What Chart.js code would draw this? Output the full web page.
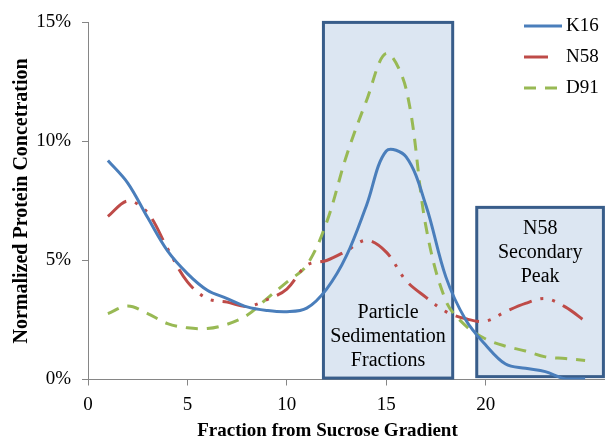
<!DOCTYPE html>
<html>
<head>
<meta charset="utf-8">
<script src="https://cdn.jsdelivr.net/npm/chart.js@4.4.1/dist/chart.umd.min.js"></script>
<style>
  html, body { margin: 0; padding: 0; background: #fff; }
</style>
</head>
<body>
<canvas id="chart" width="605" height="439"></canvas>
<script>
// Normalized protein concentration across sucrose gradient fractions

var fractions = [1, 2, 3, 4, 5, 6, 7, 8, 9, 10, 11, 12, 13, 14, 15, 16, 17, 18, 19, 20, 21, 22, 23, 24, 25];
var k16 = [9.2, 8.25, 6.8, 5.4, 4.45, 3.75, 3.4, 3.05, 2.9, 2.85, 3.0, 3.8, 5.2, 7.3, 9.6, 9.35, 7.3, 4.3, 2.5, 1.45, 0.65, 0.47, 0.33, 0.03, 0.03];
var n58 = [6.85, 7.5, 7.0, 5.5, 4.1, 3.4, 3.25, 3.07, 3.35, 3.8, 4.8, 5.0, 5.4, 5.85, 5.35, 4.15, 3.45, 2.85, 2.55, 2.45, 2.85, 3.2, 3.4, 3.05, 2.45];
var d91 = [2.77, 3.09, 2.77, 2.35, 2.17, 2.14, 2.32, 2.7, 3.4, 4.09, 4.8, 6.6, 9.4, 11.7, 13.7, 12.2, 6.4, 3.3, 2.25, 1.7, 1.4, 1.2, 0.95, 0.88, 0.8];

var xTicks = [0, 5, 10, 15, 20];
var yTicks = [0, 5, 10, 15];

// shaded boxes, in axis units
var boxes = [
  { x0: 11.84, x1: 18.34, y0: 0.06, y1: 15, cx: 15.09, cy: 1.8, text: ['Particle', 'Sedimentation', 'Fractions'] },
  { x0: 19.55, x1: 25.92, y0: 0.12, y1: 7.23, cx: 22.74, cy: 5.31, text: ['N58', 'Secondary', 'Peak'] }
];

var serif = '"Liberation Serif", "Times New Roman", serif';

function pairs(ys) {
  return ys.map(function (y, i) { return { x: fractions[i], y: y }; });
}

var boxPlugin = {
  id: 'boxes',
  beforeDatasetsDraw: function (chart) {
    var ctx = chart.ctx, xs = chart.scales.x, ys = chart.scales.y;
    ctx.save();
    boxes.forEach(function (b) {
      var l = xs.getPixelForValue(b.x0), r = xs.getPixelForValue(b.x1);
      var t = ys.getPixelForValue(b.y1), btm = ys.getPixelForValue(b.y0);
      ctx.fillStyle = '#dce6f2';
      ctx.fillRect(l, t, r - l, btm - t);
      ctx.strokeStyle = '#385d8a';
      ctx.lineWidth = 3;
      ctx.strokeRect(l, t, r - l, btm - t);
      // label
      ctx.fillStyle = '#000';
      ctx.font = '20px ' + serif;
      ctx.textAlign = 'center';
      ctx.textBaseline = 'middle';
      var cx = xs.getPixelForValue(b.cx), cy = ys.getPixelForValue(b.cy);
      var n = b.text.length;
      b.text.forEach(function (s, i) {
        ctx.fillText(s, cx, cy + (i - (n - 1) / 2) * 24);
      });
    });
    ctx.restore();
  }
};

var legendPlugin = {
  id: 'sideLegend',
  afterDraw: function (chart) {
    var ctx = chart.ctx;
    ctx.save();
    chart.data.datasets.forEach(function (ds, i) {
      var y = 26 + i * 31;
      // N58 sample only shows its long dash
      var len = ds.borderDash && ds.borderDash.length > 2 ? 25 : 38;
      ctx.beginPath();
      ctx.setLineDash(ds.borderDash || []);
      ctx.strokeStyle = ds.borderColor;
      ctx.lineWidth = 3;
      ctx.moveTo(524, y);
      ctx.lineTo(524 + len, y);
      ctx.stroke();
      ctx.setLineDash([]);
      ctx.fillStyle = '#000';
      ctx.font = '19px ' + serif;
      ctx.textAlign = 'left';
      ctx.textBaseline = 'middle';
      ctx.fillText(ds.label, 566, y);
    });
    // x axis title, sits left of the plot centre
    ctx.font = 'bold 19px ' + serif;
    ctx.textAlign = 'center';
    ctx.textBaseline = 'middle';
    ctx.fillText('Fraction from Sucrose Gradient', 327.5, 431);
    ctx.restore();
  }
};

new Chart(document.getElementById('chart').getContext('2d'), {
  type: 'line',
  data: {
    datasets: [
      { label: 'K16', data: pairs(k16), borderColor: '#4a7ebb', borderWidth: 3, tension: 0.35, pointRadius: 0, fill: false },
      { label: 'N58', data: pairs(n58), borderColor: '#be4b48', borderWidth: 3, borderDash: [24, 9, 3, 9, 3, 9], tension: 0.35, pointRadius: 0, fill: false },
      { label: 'D91', data: pairs(d91), borderColor: '#98b954', borderWidth: 3, borderDash: [12, 9], tension: 0.35, pointRadius: 0, fill: false }
    ]
  },
  options: {
    responsive: false,
    animation: false,
    devicePixelRatio: 1,
    layout: { padding: { top: 21, right: 0, bottom: 0, left: 0 } },
    plugins: { legend: { display: false }, tooltip: { enabled: false } },
    scales: {
      x: {
        type: 'linear', min: 0, max: 26,
        afterBuildTicks: function (s) { s.ticks = xTicks.map(function (v) { return { value: v }; }); },
        afterFit: function (s) { s.height = 59.5; },
        grid: { display: true, drawOnChartArea: false, drawTicks: true, tickLength: 6, color: '#868686' },
        border: { color: '#868686', width: 1 },
        ticks: { color: '#000', padding: 8, maxRotation: 0, font: { family: serif, size: 19 } },
        title: { display: false }
      },
      y: {
        min: 0, max: 15,
        afterBuildTicks: function (s) { s.ticks = yTicks.map(function (v) { return { value: v }; }); },
        afterFit: function (s) { s.width = 88; },
        grid: { display: true, drawOnChartArea: false, drawTicks: true, tickLength: 6, color: '#868686' },
        border: { color: '#868686', width: 1 },
        ticks: { color: '#000', padding: 11, font: { family: serif, size: 19 }, callback: function (v) { return v + '%'; } },
        title: { display: true, text: 'Normalized Protein Concetration', color: '#000',
                 font: { family: serif, size: 20, weight: 'bold', lineHeight: 1 }, padding: { top: 11.5, bottom: 0 } }
      }
    }
  },
  plugins: [boxPlugin, legendPlugin]
});
</script>
</body>
</html>
